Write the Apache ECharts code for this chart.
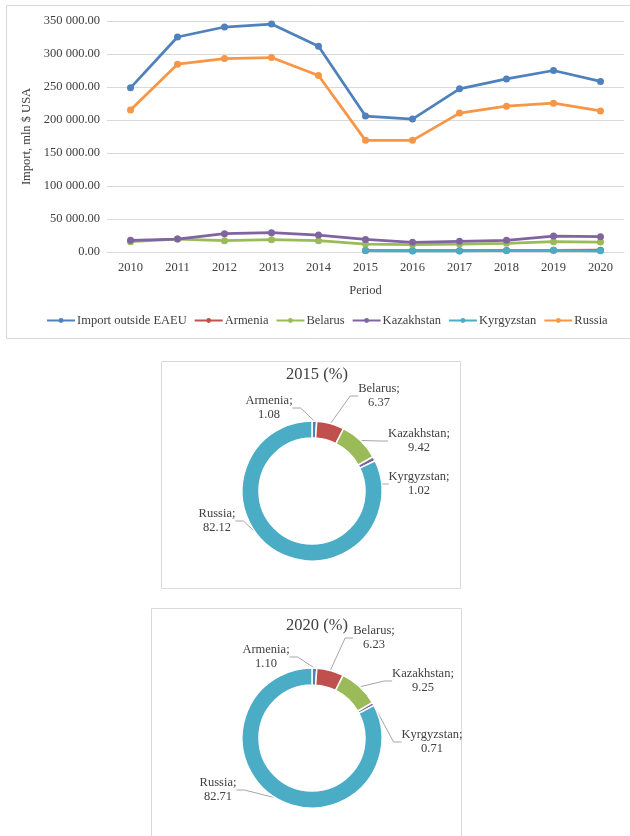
<!DOCTYPE html>
<html>
<head>
<meta charset="utf-8">
<script src="https://cdn.jsdelivr.net/npm/echarts@6/dist/echarts.min.js"></script>
<style>
  html, body { margin: 0; padding: 0; background: #ffffff; }
  #chart { width: 630px; height: 836px; }
</style>
</head>
<body>
<div id="chart"></div>
<script>
// Import of EAEU countries from outside the union, mln $ USA
const years = ['2010','2011','2012','2013','2014','2015','2016','2017','2018','2019','2020'];
const importOutside = [248700, 325800, 340900, 345400, 311700, 206000, 201400, 247200, 262300, 275000, 258400];
const armenia      = [null, null, null, null, null, 2200, 1900, 2000, 2300, 2500, 2800];
const belarus      = [15700, 19600, 17200, 18700, 17200, 12000, 11000, 12000, 13200, 15700, 15000];
const kazakhstan   = [17700, 19600, 27800, 29300, 25700, 19000, 14700, 16200, 17700, 24200, 23200];
const kyrgyzstan   = [null, null, null, null, null, 2100, 1600, 1700, 2400, 2500, 1800];
const russia       = [215000, 284500, 293100, 294600, 267400, 169200, 169200, 210500, 221000, 225500, 213800];

// Country shares of the import, %
const shareNames = ['Armenia', 'Belarus', 'Kazakhstan', 'Kyrgyzstan', 'Russia'];
const share2015 = [1.08, 6.37, 9.42, 1.02, 82.12];
const share2020 = [1.10, 6.23, 9.25, 0.71, 82.71];

const palette = {
  'Import outside EAEU': '#4F81BD',
  'Armenia': '#C0504D',
  'Belarus': '#9BBB59',
  'Kazakhstan': '#8064A2',
  'Kyrgyzstan': '#4BACC6',
  'Russia': '#F79646'
};
const sliceColors = ['#4F81BD', '#C0504D', '#9BBB59', '#8064A2', '#4BACC6'];
const serif = '"Liberation Serif", "Times New Roman", serif';
const textColor = '#404040';

function fmtThousands(v) {
  const s = Math.round(v).toString().replace(/\B(?=(\d{3})+(?!\d))/g, ' ');
  return s + '.00';
}

function lineSeries(name, data) {
  return {
    name: name,
    type: 'line',
    data: data,
    xAxisIndex: 0, yAxisIndex: 0,
    symbol: 'circle',
    symbolSize: 7,
    lineStyle: { width: 2.75, color: palette[name] },
    itemStyle: { color: palette[name] },
    connectNulls: false,
    animation: false
  };
}

// label positions of the donut labels (centre of each text block)
const donutLabelPos = [
  [[269, 408], [379, 396], [419, 441], [419, 484], [217, 521]],
  [[266, 657], [374, 638], [423, 681], [432, 742], [218, 790]]
];

function pieSeries(idx, data, centerY) {
  return {
    type: 'pie',
    radius: [53, 70],
    center: [312, centerY],
    startAngle: 90,
    clockwise: true,
    avoidLabelOverlap: false,
    animation: false,
    itemStyle: { borderColor: '#ffffff', borderWidth: 1.5 },
    data: shareNames.map((n, i) => ({
      name: n, value: data[i], itemStyle: { color: sliceColors[i] }
    })),
    label: {
      show: true,
      position: 'outside',
      formatter: p => p.name + ';\n' + p.value.toFixed(2),
      fontFamily: serif,
      fontSize: 12.5,
      lineHeight: 14,
      color: textColor,
      align: 'center'
    },
    labelLine: {
      show: true,
      length: 8,
      length2: 8,
      lineStyle: { color: '#a6a6a6', width: 1 }
    },
    labelLayout: function (p) {
      const pos = donutLabelPos[idx][p.dataIndex];
      return { x: pos[0], y: pos[1], align: 'center', verticalAlign: 'middle' };
    }
  };
}

const chart = echarts.init(document.getElementById('chart'), null, { renderer: 'canvas' });

chart.setOption({
  backgroundColor: '#ffffff',
  animation: false,
  graphic: [
    { type: 'rect', shape: { x: 6.5, y: 5.5, width: 640, height: 333 },
      style: { fill: 'none', stroke: '#d9d9d9', lineWidth: 1 } },
    { type: 'rect', shape: { x: 161.5, y: 361.5, width: 299, height: 227 },
      style: { fill: 'none', stroke: '#d9d9d9', lineWidth: 1 } },
    { type: 'rect', shape: { x: 151.5, y: 608.5, width: 310, height: 240 },
      style: { fill: 'none', stroke: '#d9d9d9', lineWidth: 1 } }
  ],
  title: [
    { text: '2015 (%)', left: 312, top: 361, textAlign: 'center',
      textStyle: { fontFamily: serif, fontSize: 16.5, fontWeight: 'normal', color: textColor } },
    { text: '2020 (%)', left: 312, top: 612, textAlign: 'center',
      textStyle: { fontFamily: serif, fontSize: 16.5, fontWeight: 'normal', color: textColor } }
  ],
  legend: {
    data: ['Import outside EAEU', 'Armenia', 'Belarus', 'Kazakhstan', 'Kyrgyzstan', 'Russia'],
    left: 46,
    top: 314,
    padding: 0,
    itemWidth: 28,
    itemHeight: 6,
    itemGap: 7,
    textStyle: { fontFamily: serif, fontSize: 12.5, color: textColor, padding: [0, 0, 0, -3] }
  },
  grid: { left: 107, right: 6, top: 21, height: 231, containLabel: false },
  xAxis: {
    type: 'category',
    data: years,
    boundaryGap: true,
    name: 'Period',
    nameLocation: 'middle',
    nameGap: 32,
    nameTextStyle: { fontFamily: serif, fontSize: 12.5, color: textColor },
    axisLine: { lineStyle: { color: '#d9d9d9', width: 1 } },
    axisTick: { show: false },
    axisLabel: { fontFamily: serif, fontSize: 12.5, color: textColor, margin: 9 }
  },
  yAxis: {
    type: 'value',
    min: 0,
    max: 350000,
    interval: 50000,
    name: 'Import, mln $ USA',
    nameLocation: 'middle',
    nameGap: 64,
    nameRotate: 90,
    nameTextStyle: { fontFamily: serif, fontSize: 12.5, color: textColor },
    axisLine: { show: false },
    axisTick: { show: false },
    splitLine: { lineStyle: { color: '#d9d9d9', width: 1 } },
    axisLabel: { fontFamily: serif, fontSize: 12.5, color: textColor, margin: 7,
      formatter: fmtThousands }
  },
  series: [
    lineSeries('Import outside EAEU', importOutside),
    lineSeries('Armenia', armenia),
    lineSeries('Belarus', belarus),
    lineSeries('Kazakhstan', kazakhstan),
    lineSeries('Kyrgyzstan', kyrgyzstan),
    lineSeries('Russia', russia),
    pieSeries(0, share2015, 491),
    pieSeries(1, share2020, 738)
  ]
});
</script>
</body>
</html>
